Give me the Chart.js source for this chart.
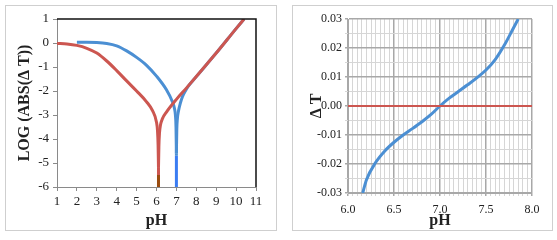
<!DOCTYPE html>
<html>
<head>
<meta charset="utf-8">
<script src="https://cdn.jsdelivr.net/npm/chart.js@4/dist/chart.umd.min.js"></script>
<style>
  body { margin: 0; background: #fff; width: 557px; height: 240px; position: relative; overflow: hidden; }
  .panel { position: absolute; top: 5px; height: 224px; border: 1px solid #cfcfcf; background: #fff; }
  #p1 { left: 5px; width: 270px; }
  #p2 { left: 292px; width: 259px; }
  canvas { display: block; }
</style>
</head>
<body>
<div class="panel" id="p1"><canvas id="c1" width="270" height="224"></canvas></div>
<div class="panel" id="p2"><canvas id="c2" width="259" height="224"></canvas></div>
<script>
'use strict';

// left chart: log |dT| vs pH, each curve in two branches plus a stem
const redLeftPH  = [1.0, 1.5, 2.0, 2.5, 3.0, 3.5, 4.0, 4.5, 5.0, 5.5, 5.8, 6.0, 6.05, 6.08, 6.1];
const redLeftLog = [-0.02, -0.04, -0.1, -0.22, -0.42, -0.75, -1.15, -1.58, -2.0, -2.45, -2.82, -3.3, -3.65, -4.25, -5.2];
const redRightPH  = [6.1, 6.12, 6.15, 6.2, 6.3, 6.5, 7.0, 7.5, 8.0, 9.0, 10.0, 10.4];
const redRightLog = [-5.2, -4.3, -3.75, -3.42, -3.15, -2.88, -2.35, -1.88, -1.4, -0.42, 0.6, 1.0];
const redStemPH  = [6.1, 6.1, 6.1];
const redStemLog = [-5.2, -5.5, -6.0];

const blueLeftPH  = [2.0, 2.5, 3.0, 3.5, 4.0, 4.5, 5.0, 5.5, 6.0, 6.5, 6.8, 6.9, 6.95, 6.98, 7.0];
const blueLeftLog = [0.03, 0.03, 0.02, -0.02, -0.12, -0.33, -0.6, -0.93, -1.38, -1.95, -2.45, -2.72, -3.0, -3.5, -4.6];
const blueRightPH  = [7.0, 7.02, 7.05, 7.1, 7.2, 7.3, 7.45, 7.6, 8.0, 9.0, 10.0, 10.4];
const blueRightLog = [-4.6, -3.6, -3.15, -2.85, -2.5, -2.25, -2.0, -1.8, -1.4, -0.42, 0.6, 1.0];
const blueStemPH  = [7.0, 7.0, 7.0];
const blueStemLog = [-4.6, -4.7, -6.0];

const leftX = [1, 11];
const leftY = [-6, 1];

// right chart: dT vs pH
const dtPH  = [6.16, 6.2, 6.3, 6.4, 6.5, 6.6, 6.7, 6.8, 6.9, 7.0, 7.1, 7.2, 7.3, 7.4, 7.5, 7.6, 7.7, 7.8, 7.85];
const dtVal = [-0.03, -0.0255, -0.0195, -0.0155, -0.0125, -0.01, -0.0078, -0.0055, -0.003, 0, 0.0027, 0.005, 0.0073, 0.0097, 0.0124, 0.016, 0.021, 0.027, 0.03];
const zeroPH  = [6.0, 8.0];
const zeroVal = [0, 0];

const rightX = [6.0, 8.0];
const rightY = [-0.03, 0.03];

const RED = '#cc5650';
const BLUE = '#4b8fd3';

Chart.defaults.font.family = "'Liberation Serif', 'DejaVu Serif', serif";
Chart.defaults.color = '#222';

function pts(xs, ys) {
  let out = [];
  for (let i = 0; i < xs.length; i++) {
    out.push({ x: xs[i], y: ys[i] });
  }
  return out;
}

function line(data, color, width, smooth) {
  return {
    data: data,
    showLine: true,
    borderColor: color,
    borderWidth: width,
    pointRadius: 0,
    cubicInterpolationMode: smooth ? 'monotone' : 'default',
    tension: 0,
    fill: false
  };
}

// stems: upper part in the curve colour, the bottom piece darker
function stem(xs, ys, color, bottomColor) {
  return [
    line(pts(xs.slice(0, 2), ys.slice(0, 2)), color, 3, false),
    line(pts(xs.slice(1), ys.slice(1)), bottomColor, 3, false)
  ];
}

const frameLines = {
  id: 'frameLines',
  afterDatasetsDraw(chart) {
    const a = chart.chartArea;
    const ctx = chart.ctx;
    ctx.save();
    ctx.strokeStyle = '#111';
    ctx.lineWidth = 1.5;
    ctx.beginPath();
    ctx.moveTo(a.left, a.top);
    ctx.lineTo(a.right, a.top);
    ctx.lineTo(a.right, a.bottom);
    ctx.stroke();
    ctx.restore();
  }
};

new Chart(document.getElementById('c1'), {
  type: 'scatter',
  data: {
    datasets: [
      line(pts(redLeftPH, redLeftLog), RED, 3, true),
      line(pts(redRightPH, redRightLog), RED, 3, true),
      ...stem(redStemPH, redStemLog, RED, '#9a4c10'),
      line(pts(blueLeftPH, blueLeftLog), BLUE, 3, true),
      line(pts(blueRightPH, blueRightLog), BLUE, 3, true),
      ...stem(blueStemPH, blueStemLog, BLUE, '#3a7cf2')
    ]
  },
  options: {
    responsive: false,
    animation: false,
    layout: { padding: { top: 13, right: 20, left: 0, bottom: 0 } },
    plugins: { legend: { display: false }, tooltip: { enabled: false } },
    scales: {
      x: {
        type: 'linear',
        min: leftX[0],
        max: leftX[1],
        afterFit: s => { s.height = 43; },
        ticks: { stepSize: 1, font: { size: 13 }, padding: 3, maxRotation: 0 },
        grid: { drawOnChartArea: false, tickLength: 4, color: '#8a8a8a' },
        border: { color: '#8a8a8a' },
        title: { display: true, text: 'pH', font: { size: 16, weight: 'bold' }, padding: { top: 0, bottom: 0 } }
      },
      y: {
        type: 'linear',
        min: leftY[0],
        max: leftY[1],
        afterFit: s => { s.width = 51; },
        ticks: { stepSize: 1, font: { size: 13 }, padding: 4 },
        grid: { drawOnChartArea: false, tickLength: 4, color: '#8a8a8a' },
        border: { color: '#8a8a8a' },
        title: { display: true, text: 'LOG (ABS(\u0394 T))', font: { size: 16, weight: 'bold' }, padding: { top: 9, bottom: 0 } }
      }
    }
  },
  plugins: [frameLines]
});

function near(v, step) {
  return Math.abs(v / step - Math.round(v / step)) < 1e-6;
}

new Chart(document.getElementById('c2'), {
  type: 'scatter',
  data: {
    datasets: [
      line(pts(zeroPH, zeroVal), RED, 2, false),
      line(pts(dtPH, dtVal), BLUE, 3, true)
    ]
  },
  options: {
    responsive: false,
    animation: false,
    layout: { padding: { top: 13, right: 20, left: 0, bottom: 0 } },
    plugins: { legend: { display: false }, tooltip: { enabled: false } },
    scales: {
      x: {
        type: 'linear',
        min: rightX[0],
        max: rightX[1],
        afterFit: s => { s.height = 37; },
        ticks: {
          stepSize: 0.05, autoSkip: false, maxRotation: 0, font: { size: 12 }, padding: 7,
          callback: v => near(v, 0.5) ? v.toFixed(1) : ''
        },
        grid: {
          tickLength: 3,
          color: c => near(c.tick.value, 0.5) ? '#a8a8a8' : '#d6d6d6',
          lineWidth: c => near(c.tick.value, 0.5) ? 1.5 : 1
        },
        border: { color: '#a8a8a8' },
        title: { display: true, text: 'pH', font: { size: 16, weight: 'bold' }, padding: { top: 0, bottom: 0 } }
      },
      y: {
        type: 'linear',
        min: rightY[0],
        max: rightY[1],
        afterFit: s => { s.width = 55; },
        ticks: {
          stepSize: 0.005, autoSkip: false, font: { size: 12 }, padding: 3,
          callback: v => near(v, 0.01) ? v.toFixed(2) : ''
        },
        grid: {
          tickLength: 3,
          color: c => near(c.tick.value, 0.01) ? '#a8a8a8' : '#d6d6d6',
          lineWidth: c => near(c.tick.value, 0.01) ? 1.5 : 1
        },
        border: { color: '#a8a8a8' },
        title: { display: true, text: '\u0394 T', font: { size: 16, weight: 'bold' }, padding: { top: 14, bottom: 0 } }
      }
    }
  }
});
</script>
</body>
</html>
